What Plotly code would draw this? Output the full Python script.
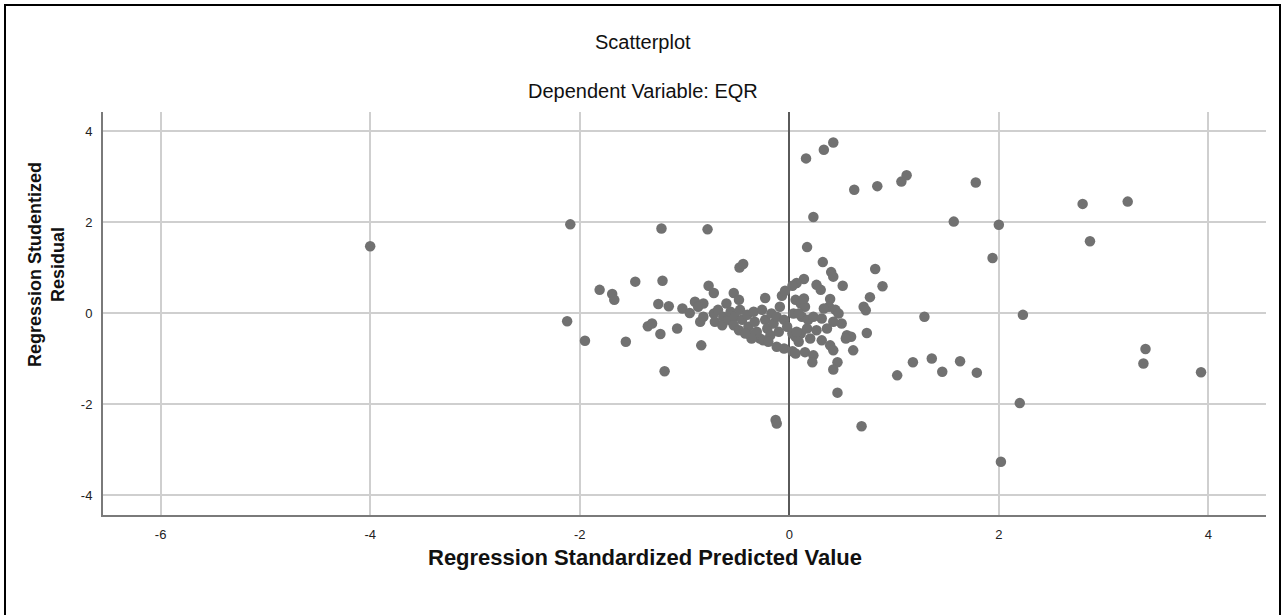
import plotly.graph_objects as go

# Regression Standardized Predicted Value (x) and Regression Studentized Residual (y)
pred_outliers = [-4.00, -2.09, -1.22, -0.78, -1.81, -1.69, -1.67, -1.47, -1.21, -1.25, -1.15, -1.02,
                 -0.95, -2.12, -1.95, -1.56, -1.35, -1.31, -1.23, -1.07, -1.19, -0.84]
resid_outliers = [1.47, 1.95, 1.86, 1.84, 0.51, 0.42, 0.29, 0.69, 0.71, 0.20, 0.15, 0.10,
                  0.00, -0.18, -0.61, -0.63, -0.29, -0.23, -0.46, -0.34, -1.28, -0.71]

pred_left = [-0.475, -0.44, -0.77, -0.72, -0.53, -0.48, -0.23, -0.07, -0.04, -0.90, -0.82, -0.87,
             -0.85, -0.82]
resid_left = [1.00, 1.08, 0.60, 0.44, 0.44, 0.29, 0.33, 0.38, 0.49, 0.25, 0.21, 0.14,
              -0.19, -0.08]

pred_dense = [-0.72, -0.68, -0.63, -0.71, -0.64, -0.58, -0.60, -0.56, -0.52, -0.53, -0.47, -0.45,
              -0.48, -0.40, -0.39, -0.37, -0.34, -0.33, -0.31, -0.28, -0.26, -0.23, -0.21, -0.18,
              -0.17, -0.15, -0.12, -0.10, -0.09, -0.05, -0.25, -0.20, -0.36, -0.42]
resid_dense = [-0.01, 0.07, -0.08, -0.19, -0.27, -0.15, 0.21, 0.03, -0.08, -0.27, 0.07, -0.15,
               -0.38, -0.04, -0.30, -0.49, 0.03, -0.19, -0.41, -0.56, 0.07, -0.15, -0.34, -0.49,
               -0.01, -0.23, -0.08, -0.41, 0.14, -0.15, -0.60, -0.63, -0.56, -0.45]

pred_center = [-0.12, -0.05, 0.03, 0.06, -0.02, 0.03, 0.06, 0.06, 0.11, 0.15, 0.04, 0.12, 0.18,
               0.11, 0.17, 0.82, 0.89, 0.77, 0.71, 0.73, 0.74, 0.61, 0.55, 0.59, 0.46, 0.42,
               0.46, 1.03, 0.14, 0.07, 0.03, 0.26, 0.30, 0.14, 0.39, 0.38, 0.33, 0.44, 0.47,
               0.09, 0.23, 0.31, 0.42, 0.50, 0.07, 0.26, 0.36, 0.09, 0.20, 0.31, 0.39, 0.15,
               0.23, 0.22, 0.42, 0.54]
resid_center = [-0.74, -0.78, -0.84, -0.89, -0.30, -0.45, -0.52, 0.29, 0.21, 0.14, -0.01, -0.08,
                -0.15, -0.45, -0.34, 0.97, 0.59, 0.35, 0.14, 0.06, -0.44, -0.82, -0.49, -0.52,
                -1.08, -1.24, -1.75, -1.37, 0.75, 0.66, 0.60, 0.62, 0.51, 0.32, 0.31, 0.14, 0.10,
                0.07, -0.01, -0.01, -0.08, -0.12, -0.19, -0.23, -0.41, -0.38, -0.34, -0.63, -0.56,
                -0.60, -0.71, -0.86, -0.93, -1.08, -0.82, -0.56]

pred_right = [0.16, 0.33, 0.42, 0.62, 0.84, 1.07, 1.12, 1.78, 0.23, 1.57, 2.00, 0.17, 1.94, 0.32,
              0.40, 0.42, 0.51, 1.29, 2.23, 1.18, 1.36, 1.46, 1.63, 1.79, 2.20, 0.69, 2.02,
              -0.13, -0.12, 2.80, 3.23, 2.87, 3.40, 3.38, 3.93]
resid_right = [3.40, 3.59, 3.75, 2.71, 2.79, 2.89, 3.03, 2.87, 2.11, 2.01, 1.94, 1.45, 1.21, 1.12,
               0.90, 0.80, 0.60, -0.08, -0.04, -1.08, -1.00, -1.29, -1.06, -1.31, -1.98, -2.49,
               -3.27, -2.35, -2.43, 2.40, 2.45, 1.58, -0.79, -1.11, -1.30]

x_ticks = [-6, -4, -2, 0, 2, 4]
y_ticks = [-4, -2, 0, 2, 4]

x_all = pred_outliers + pred_left + pred_dense + pred_center + pred_right
y_all = resid_outliers + resid_left + resid_dense + resid_center + resid_right

SANS = "Liberation Sans, Arial, sans-serif"
W, H = 1283, 615
L, R, T, B = 103, 17, 112, 100
pw, ph = W - L - R, H - T - B

def px(xp):
    return (xp - L) / pw

def py(yp):
    return (H - B - yp) / ph

fig = go.Figure()
fig.add_trace(go.Scatter(
    x=x_all, y=y_all, mode="markers",
    marker=dict(color="#717171", size=10.5, line=dict(width=0)),
    showlegend=False, hoverinfo="x+y"))

fig.update_layout(
    width=W, height=H,
    margin=dict(l=L, r=R, t=T, b=B),
    paper_bgcolor="white", plot_bgcolor="white",
    xaxis=dict(range=[-6.55, 4.55], tickvals=x_ticks, ticktext=[str(v) for v in x_ticks],
               showgrid=True, gridcolor="#cfcfcf", gridwidth=1.5,
               zeroline=True, zerolinecolor="#5a5a5a", zerolinewidth=2,
               showline=True, linecolor="#7a7a7a", linewidth=2, ticks="",
               tickfont=dict(family=SANS, size=13, color="#222222"), ticklabelstandoff=6),
    yaxis=dict(range=[-4.44, 4.42], tickvals=y_ticks, ticktext=[str(v) for v in y_ticks],
               showgrid=True, gridcolor="#cfcfcf", gridwidth=1.5, zeroline=False,
               showline=True, linecolor="#7a7a7a", linewidth=2, ticks="",
               tickfont=dict(family=SANS, size=13, color="#222222"), ticklabelstandoff=6),
    annotations=[
        dict(text="Scatterplot", x=px(643), y=py(42), xref="paper", yref="paper",
             showarrow=False, font=dict(family=SANS, size=20, color="#111111"),
             xanchor="center", yanchor="middle"),
        dict(text="Dependent Variable: EQR", x=px(643), y=py(91), xref="paper", yref="paper",
             showarrow=False, font=dict(family=SANS, size=20, color="#111111"),
             xanchor="center", yanchor="middle"),
        dict(text="<b>Regression Standardized Predicted Value</b>", x=px(645), y=py(557),
             xref="paper", yref="paper", showarrow=False,
             font=dict(family=SANS, size=22, color="#111111"),
             xanchor="center", yanchor="middle"),
        dict(text="<b>Regression Studentized<br>Residual</b>", x=px(46), y=py(265),
             xref="paper", yref="paper", showarrow=False, textangle=-90,
             font=dict(family=SANS, size=18, color="#111111"),
             xanchor="center", yanchor="middle"),
    ],
    shapes=[
        dict(type="rect", xref="paper", yref="paper", x0=px(5), x1=px(1280), y0=py(640), y1=py(5),
             line=dict(color="black", width=2), fillcolor="rgba(0,0,0,0)", layer="above"),
    ],
)

fig.write_html("out.html", config={"displayModeBar": False},
               post_script="document.body.style.margin='0';document.body.style.overflow='hidden';")
